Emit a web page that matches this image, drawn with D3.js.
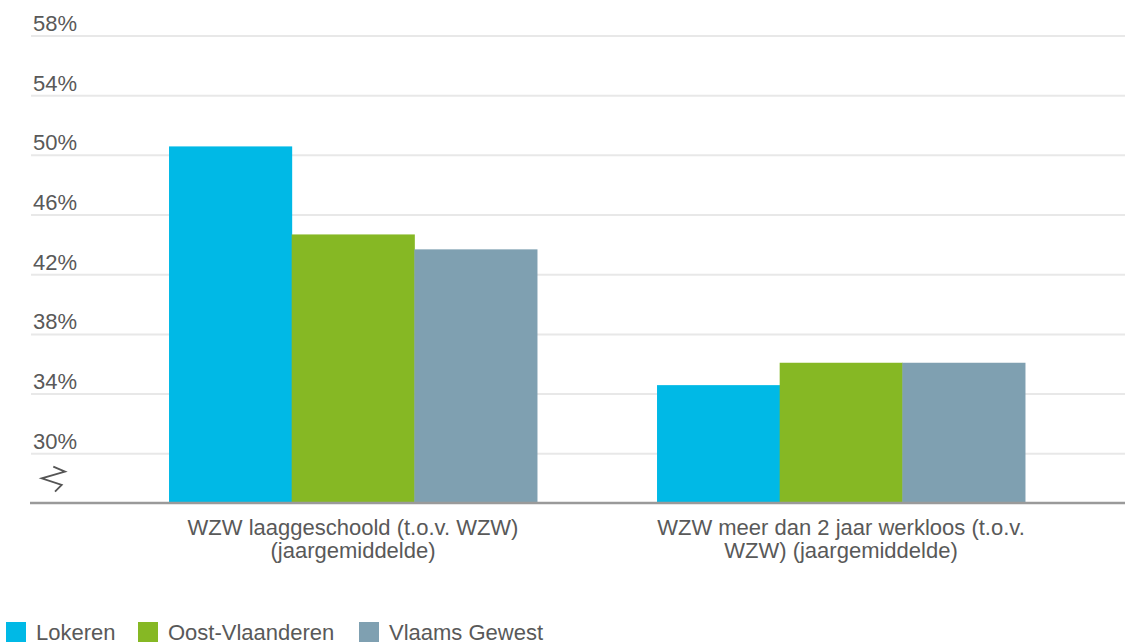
<!DOCTYPE html>
<html>
<head>
<meta charset="utf-8">
<script src="https://cdn.jsdelivr.net/npm/d3@7"></script>
<style>
  html, body { margin: 0; padding: 0; background: #fff; }
  svg { display: block; }
  text { font-family: "Liberation Sans", Arial, sans-serif; fill: #595959; }
</style>
</head>
<body>
<svg id="chart" width="1125" height="643"></svg>
<script>
const categories = [
  ["WZW laaggeschoold (t.o.v. WZW)", "(jaargemiddelde)"],
  ["WZW meer dan 2 jaar werkloos (t.o.v.", "WZW) (jaargemiddelde)"]
];
const seriesNames = ["Lokeren", "Oost-Vlaanderen", "Vlaams Gewest"];
const seriesColors = ["#00b9e6", "#86b824", "#7fa0b1"];
const lokeren = [50.6, 34.6];
const oostVlaanderen = [44.7, 36.1];
const vlaamsGewest = [43.7, 36.1];
const tickValues = [30, 34, 38, 42, 46, 50, 54, 58];
const tickLabels = ["30%", "34%", "38%", "42%", "46%", "50%", "54%", "58%"];
const axisMin = 26.7;

const values = [lokeren, oostVlaanderen, vlaamsGewest];
const svg = d3.select("#chart");
const fontSize = 22;

const y = d3.scaleLinear().domain([axisMin, 58]).range([503, 36]);
const x0 = d3.scaleBand().domain(d3.range(categories.length)).range([109, 1085])
  .paddingInner(0.246).paddingOuter(0.123);
const x1 = d3.scaleBand().domain(d3.range(seriesNames.length)).range([0, x0.bandwidth()]);

// gridlines
svg.append("g").selectAll("line").data(tickValues).join("line")
  .attr("x1", 31).attr("x2", 1125)
  .attr("y1", d => y(d)).attr("y2", d => y(d))
  .attr("stroke", "#e8e8e8").attr("stroke-width", 2);

// tick labels
svg.append("g").selectAll("text").data(tickValues).join("text")
  .attr("x", 33).attr("y", d => y(d) - 5)
  .attr("font-size", fontSize)
  .text((d, i) => tickLabels[i]);

// axis break symbol
svg.append("path")
  .attr("d", "M53.3,466.7 L65,471.7 L41.7,478.3 L61.7,485 L55,491.7")
  .attr("fill", "none").attr("stroke", "#555").attr("stroke-width", 1.8)
  .attr("stroke-linejoin", "miter");

// bars
const groups = svg.append("g").selectAll("g").data(categories).join("g")
  .attr("transform", (d, i) => `translate(${x0(i)},0)`);
groups.selectAll("rect")
  .data((d, ci) => seriesNames.map((s, si) => ({ si, v: values[si][ci] })))
  .join("rect")
  .attr("x", d => x1(d.si))
  .attr("width", x1.bandwidth() + 0.5)
  .attr("y", d => y(d.v))
  .attr("height", d => y(axisMin) - y(d.v))
  .attr("fill", d => seriesColors[d.si]);

// baseline axis
svg.append("line")
  .attr("x1", 30).attr("x2", 1125)
  .attr("y1", y(axisMin)).attr("y2", y(axisMin))
  .attr("stroke", "#9a9a9a").attr("stroke-width", 2.5);

// category labels
const catG = svg.append("g").selectAll("text").data(categories).join("text")
  .attr("text-anchor", "middle")
  .attr("font-size", fontSize)
  .attr("x", (d, i) => x0(i) + x0.bandwidth() / 2)
  .attr("y", 534.5);
catG.selectAll("tspan").data(d => d).join("tspan")
  .attr("x", function () { return d3.select(this.parentNode).attr("x"); })
  .attr("dy", (d, i) => i === 0 ? 0 : 23)
  .text(d => d);

// legend
const legendX = [6, 138, 359];
const leg = svg.append("g").selectAll("g").data(seriesNames).join("g")
  .attr("transform", (d, i) => `translate(${legendX[i]},0)`);
leg.append("rect").attr("x", 0).attr("y", 622).attr("width", 20).attr("height", 20)
  .attr("fill", (d, i) => seriesColors[i]);
leg.append("text").attr("x", 30).attr("y", 639.5).attr("font-size", fontSize)
  .text(d => d);
</script>
</body>
</html>
